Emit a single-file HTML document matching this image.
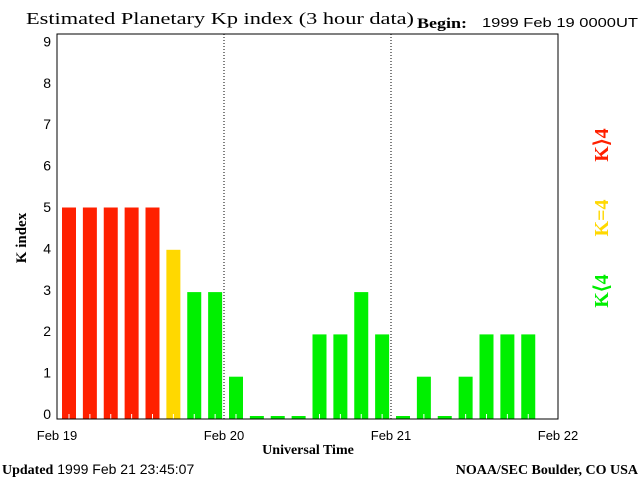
<!DOCTYPE html>
<html><head><meta charset="utf-8"><style>
body{margin:0;background:#fff;width:640px;height:480px;overflow:hidden}
svg{display:block}
</style></head><body>
<svg width="640" height="480" xmlns="http://www.w3.org/2000/svg">
<text x="26" y="24" textLength="388" lengthAdjust="spacingAndGlyphs" font-family="Liberation Serif, serif" font-size="17">Estimated Planetary Kp index (3 hour data)</text>
<text x="417" y="28" textLength="50" lengthAdjust="spacingAndGlyphs" font-family="Liberation Serif, serif" font-size="15" font-weight="bold">Begin:</text>
<text x="482" y="27" textLength="156" lengthAdjust="spacingAndGlyphs" font-family="Liberation Sans, sans-serif" font-size="13">1999 Feb 19 0000UT</text>
<g id="plot"></g>
<text x="26" y="238" transform="rotate(-90 26 238)" text-anchor="middle" font-family="Liberation Serif, serif" font-size="15" font-weight="bold">K index</text>
<text x="308" y="454" text-anchor="middle" font-family="Liberation Serif, serif" font-size="14" font-weight="bold">Universal Time</text>
<text x="2" y="474" font-family="Liberation Sans, sans-serif" font-size="14"><tspan font-family="Liberation Serif, serif" font-weight="bold">Updated</tspan> 1999 Feb 21 23:45:07</text>
<text x="638" y="474" text-anchor="end" font-family="Liberation Serif, serif" font-size="14" font-weight="bold">NOAA/SEC Boulder, CO USA</text>
<text x="608" y="145" transform="rotate(-90 608 145)" text-anchor="middle" fill="#ff2000" font-family="Liberation Serif, serif" font-size="20" font-weight="bold">K⟩4</text>
<text x="608" y="218" transform="rotate(-90 608 218)" text-anchor="middle" fill="#ffd800" font-family="Liberation Serif, serif" font-size="20" font-weight="bold">K=4</text>
<text x="608" y="291" transform="rotate(-90 608 291)" text-anchor="middle" fill="#00ee00" font-family="Liberation Serif, serif" font-size="20" font-weight="bold">K⟨4</text>
</svg>
<script>
const kpValues=[5,5,5,5,5,4,3,3, 1,0,0,0,2,2,3,2, 0,1,0,1,2,2,2];
const yTicks=[0,1,2,3,4,5,6,7,8,9];
const dayLabels=["Feb 19","Feb 20","Feb 21","Feb 22"];
const NS="http://www.w3.org/2000/svg";
const g=document.getElementById('plot');
const L=57,R=558,T=34,B=419,U=42.3,slots=24;
const sw=(R-L)/slots;
const xs=i=>L+i*sw;
const ys=v=>B-v*U;
const yl=v=>414-v*41.4;
function mk(t,a){const e=document.createElementNS(NS,t);for(const k in a)e.setAttribute(k,a[k]);g.appendChild(e);return e;}
kpValues.forEach((v,i)=>{
  const col=v>4?'#ff2000':(v==4?'#ffd800':'#00f000');
  const top=v===0?B-3:ys(v);
  const r=mk('rect',{x:xs(i)+5,y:top,width:14,height:B-top,fill:col});
  
  
  if(v>0){const t=mk('line',{x1:xs(i)+12,x2:xs(i)+12,y1:B-5,y2:B,stroke:'#fff','stroke-width':1});
  
  }
});
const box=mk('rect',{x:L,y:T,width:R-L,height:B-T,fill:'none',stroke:'#000','stroke-width':1});


[1,2].forEach(d=>{const l=mk('line',{x1:xs(d*8),x2:xs(d*8),y1:T,y2:B,stroke:'#000','stroke-dasharray':'1,2'});

});
yTicks.forEach(v=>{const t=mk('text',{x:L-6,y:yl(v)+5,'text-anchor':'end','font-family':'Liberation Sans, sans-serif','font-size':14});
t.textContent=v;

});
dayLabels.forEach((s,d)=>{const t=mk('text',{x:xs(d*8),y:440,'text-anchor':'middle','font-family':'Liberation Sans, sans-serif','font-size':13});
t.textContent=s;

});
</script>
</body></html>
